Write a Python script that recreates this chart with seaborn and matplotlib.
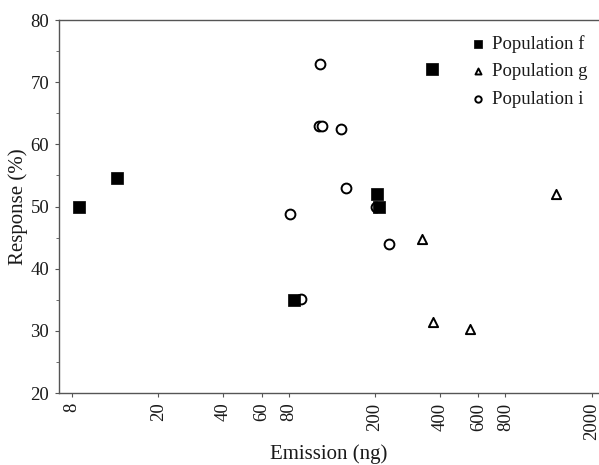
import numpy as np
import pandas as pd
import matplotlib
matplotlib.use("Agg")
import matplotlib.pyplot as plt
from matplotlib.ticker import FixedLocator, FixedFormatter, MultipleLocator, NullLocator
import seaborn as sns

# Datos (emision en ng, respuesta en %)
f_emision = [8.6, 12.9, 85, 205, 209, 366]
f_respuesta = [50.0, 54.6, 35.0, 52.0, 50.0, 72.1]

g_emision = [328, 370, 548, 1366]
g_respuesta = [44.7, 31.4, 30.3, 52.0]

i_emision = [112, 110.6, 113.8, 140, 147, 202, 80.8, 232, 91]
i_respuesta = [73.0, 63.0, 63.0, 62.5, 53.0, 50.0, 48.8, 44.0, 35.1]

x_ticks = [8, 20, 40, 60, 80, 200, 400, 600, 800, 2000]

df_f = pd.DataFrame({"x": f_emision, "y": f_respuesta})
df_g = pd.DataFrame({"x": g_emision, "y": g_respuesta})
df_i = pd.DataFrame({"x": i_emision, "y": i_respuesta})

sns.set_style("white")
plt.rcParams["font.family"] = ["Liberation Serif", "DejaVu Serif"]

fig = plt.figure(figsize=(5.99, 4.65), dpi=100)
ax = fig.add_axes([59 / 599, 1 - 393 / 465, 1 - 59 / 599, (393 - 20) / 465])

# los cuadrados van por encima de los circulos
sns.scatterplot(data=df_f, x="x", y="y", marker="s", s=64, color="black",
                edgecolor="black", linewidth=0.5, label="Population f", ax=ax,
                zorder=4)
sns.scatterplot(data=df_g, x="x", y="y", marker="^", s=44, facecolor="white",
                edgecolor="black", linewidth=1.4, label="Population g", ax=ax,
                zorder=3)
sns.scatterplot(data=df_i, x="x", y="y", marker="o", s=50, facecolor="white",
                edgecolor="black", linewidth=1.4, label="Population i", ax=ax,
                zorder=3)

ax.set_xscale("log")
ax.set_xlim(6.97, 2160)
ax.set_ylim(20, 80)
ax.xaxis.set_major_locator(FixedLocator(x_ticks))
ax.xaxis.set_major_formatter(FixedFormatter([str(t) for t in x_ticks]))
ax.xaxis.set_minor_locator(NullLocator())
ax.yaxis.set_major_locator(MultipleLocator(10))
ax.yaxis.set_minor_locator(MultipleLocator(5))

for side in ["left", "bottom", "top"]:
    ax.spines[side].set_color("#555555")
    ax.spines[side].set_linewidth(1.0)
ax.spines["right"].set_visible(False)

ax.tick_params(axis="both", which="major", direction="out", length=3, width=0.8,
               color="#555555", labelsize=13.5, labelcolor="#1a1a1a", pad=4,
               left=True, bottom=True)
ax.tick_params(axis="y", which="minor", direction="out", length=2, width=0.6,
               color="#555555", left=True)
plt.setp(ax.get_xticklabels(), rotation=90)

ax.set_xlabel("Emission (ng)", fontsize=15, color="#1a1a1a", labelpad=3)
ax.set_ylabel("Response (%)", fontsize=15, color="#1a1a1a", labelpad=2)

leg = ax.legend(loc="upper left", bbox_to_anchor=(0.752, 0.98), frameon=False,
                fontsize=13.5, markerscale=0.65, handlelength=0.6,
                handletextpad=0.45, labelspacing=0.55, borderaxespad=0)
for t in leg.get_texts():
    t.set_color("#1a1a1a")

fig.savefig("out.png", dpi=100)
